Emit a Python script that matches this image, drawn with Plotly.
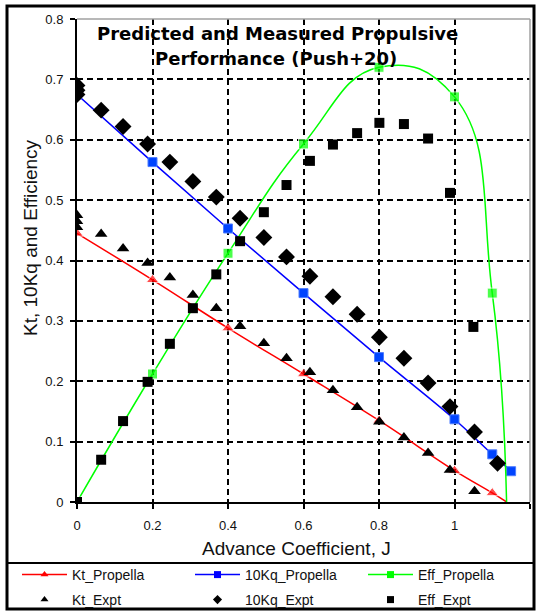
import plotly.graph_objects as go

# Predicted (propeller code) data
J_kt_pred = [0, 0.2, 0.4, 0.6, 0.8, 1.0, 1.1, 1.138]
Kt_pred = [0.445, 0.368, 0.288, 0.212, 0.135, 0.052, 0.015, 0.0]

J_kq_pred = [0, 0.2, 0.4, 0.6, 0.8, 1.0, 1.1, 1.15]
Kq_pred = [0.675, 0.563, 0.453, 0.346, 0.24, 0.137, 0.079, 0.051]

J_eff_pred = [0, 0.2, 0.4, 0.6, 0.8, 1.0, 1.1, 1.138]
Eff_pred = [0.0, 0.212, 0.412, 0.593, 0.72, 0.671, 0.346, 0.0]

# Experimental data
J_kt_expt = [0, 0, 0, 0.064, 0.122, 0.187, 0.246, 0.307, 0.369, 0.432, 0.495,
             0.555, 0.617, 0.678, 0.742, 0.801, 0.866, 0.93, 0.988, 1.053]
Kt_expt = [0.475, 0.465, 0.455, 0.444, 0.42, 0.396, 0.372, 0.343, 0.321, 0.291, 0.263,
           0.238, 0.215, 0.185, 0.157, 0.133, 0.107, 0.081, 0.053, 0.018]

J_kq_expt = [0, 0, 0, 0.064, 0.122, 0.187, 0.246, 0.307, 0.369, 0.432, 0.495,
             0.555, 0.617, 0.678, 0.742, 0.801, 0.866, 0.93, 0.988, 1.053, 1.114]
Kq_expt = [0.69, 0.682, 0.675, 0.649, 0.622, 0.593, 0.563, 0.531, 0.505, 0.47, 0.438,
           0.406, 0.374, 0.34, 0.311, 0.273, 0.238, 0.197, 0.158, 0.116, 0.064]

J_eff_expt = [0, 0.064, 0.122, 0.187, 0.246, 0.307, 0.369, 0.432, 0.495,
              0.555, 0.617, 0.678, 0.742, 0.801, 0.866, 0.93, 0.988, 1.05]
Eff_expt = [0.0, 0.07, 0.134, 0.199, 0.262, 0.321, 0.377, 0.432, 0.48,
            0.525, 0.565, 0.592, 0.611, 0.628, 0.626, 0.602, 0.512, 0.29]

x_ticks = [0, 0.2, 0.4, 0.6, 0.8, 1.0, 1.2]
y_ticks = [0, 0.1, 0.2, 0.3, 0.4, 0.5, 0.6, 0.7, 0.8]

FONT = "Liberation Sans, Arial, sans-serif"

fig = go.Figure()

def sizes(n, s, hide_last=False):
    arr = [s] * n
    if hide_last:
        arr[-1] = 0
    return arr

# ---- data traces (legend handled by dedicated legend entries below) ----
fig.add_trace(go.Scatter(
    x=J_kt_pred, y=Kt_pred, name="Kt_Propella", mode="lines+markers", showlegend=False,
    line=dict(color="#ff0000", width=1.5, shape="spline"),
    marker=dict(symbol="triangle-up", color="#ff0000", size=sizes(len(J_kt_pred), 11, True))))
fig.add_trace(go.Scatter(
    x=J_kq_pred, y=Kq_pred, name="10Kq_Propella", mode="lines+markers", showlegend=False,
    line=dict(color="#0000ff", width=1.5, shape="spline"),
    marker=dict(symbol="square", color="#0044ff", size=9,
                line=dict(color="#4d7cff", width=1))))
fig.add_trace(go.Scatter(
    x=J_eff_pred, y=Eff_pred, name="Eff_Propella", mode="lines+markers", showlegend=False,
    line=dict(color="#00ff00", width=1.5, shape="spline", smoothing=1.3),
    marker=dict(symbol="square", color="#00ff00", size=sizes(len(J_eff_pred), 10, True))))
fig.add_trace(go.Scatter(
    x=J_kt_expt, y=Kt_expt, name="Kt_Expt", mode="markers", showlegend=False,
    marker=dict(symbol="triangle-up", color="#000000", size=11)))
fig.add_trace(go.Scatter(
    x=J_kq_expt, y=Kq_expt, name="10Kq_Expt", mode="markers", showlegend=False,
    marker=dict(symbol="diamond", color="#000000", size=13)))
fig.add_trace(go.Scatter(
    x=J_eff_expt, y=Eff_expt, name="Eff_Expt", mode="markers", showlegend=False,
    marker=dict(symbol="square", color="#000000", size=10)))

# ---- legend entries ----
leg_row1 = [("Kt_Propella", "#ff0000", "triangle-up"),
            ("10Kq_Propella", "#0000ff", "square"),
            ("Eff_Propella", "#00ff00", "square")]
leg_row2 = [("Kt_Expt", "triangle-up"), ("10Kq_Expt", "diamond"), ("Eff_Expt", "square")]
for name, col, sym in leg_row1:
    fig.add_trace(go.Scatter(x=[None], y=[None], name=name, mode="lines+markers",
                             legend="legend",
                             line=dict(color=col, width=1.5),
                             marker=dict(symbol=sym, color=col, size=7)))
for name, sym in leg_row2:
    fig.add_trace(go.Scatter(x=[None], y=[None], name=name, mode="markers",
                             legend="legend2",
                             marker=dict(symbol=sym, color="#000000", size=7)))

axis_common = dict(
    showline=True, linecolor="#000000", linewidth=2,
    ticks="outside", ticklen=5, tickwidth=1.5, tickcolor="#000000",
    showgrid=True, gridcolor="#000000", gridwidth=1.5, griddash="6px,4px",
    zeroline=False, tickfont=dict(family=FONT, size=13, color="#111111"),
)

fig.update_xaxes(range=[0, 1.2], tickvals=x_ticks, ticklabelstandoff=5, **axis_common)
fig.update_yaxes(range=[0, 0.8], tickvals=y_ticks, ticklabelstandoff=4, **axis_common)

W, H = 537, 614
L, R, T, B = 77, 530, 19, 502
pw, ph = R - L, B - T

def px(xp):
    return (xp - L) / pw

def py(yp):
    return (B - yp) / ph

shapes = [
    dict(type="line", xref="paper", yref="paper", x0=0, x1=1, y0=1, y1=1,
         line=dict(color="#a0a0a0", width=1.5), layer="above"),
    dict(type="line", xref="paper", yref="paper", x0=1, x1=1, y0=0, y1=1,
         line=dict(color="#a0a0a0", width=1.5), layer="above"),
    dict(type="rect", xref="paper", yref="paper", x0=px(7), x1=px(534), y0=py(6), y1=py(609),
         line=dict(color="#000000", width=3), layer="above"),
    dict(type="line", xref="paper", yref="paper", x0=px(7), x1=px(534), y0=py(563), y1=py(563),
         line=dict(color="#000000", width=2), layer="above"),
]

annotations = [
    dict(text="<b>Predicted and Measured Propulsive</b>", xref="paper", yref="paper",
         x=px(277), y=py(33), xanchor="center", yanchor="middle", showarrow=False,
         font=dict(family="DejaVu Sans", size=18, color="#000000")),
    dict(text="<b>Performance (Push+20)</b>", xref="paper", yref="paper",
         x=px(276), y=py(58), xanchor="center", yanchor="middle", showarrow=False,
         font=dict(family="DejaVu Sans", size=18, color="#000000")),
    dict(text="Advance Coefficient, J", xref="paper", yref="paper",
         x=px(296), y=py(548), xanchor="center", yanchor="middle", showarrow=False,
         font=dict(family=FONT, size=19, color="#111111")),
    dict(text="Kt, 10Kq and Efficiency", xref="paper", yref="paper",
         x=px(31), y=py(238), xanchor="center", yanchor="middle", showarrow=False,
         textangle=-90, font=dict(family=FONT, size=19, color="#111111")),
]

legend_common = dict(orientation="h", xanchor="left", yanchor="middle",
                     entrywidth=113, entrywidthmode="pixels", itemwidth=45,
                     bgcolor="rgba(0,0,0,0)", borderwidth=0,
                     font=dict(family=FONT, size=14, color="#111111"))

fig.update_layout(
    width=W, height=H,
    margin=dict(l=L, r=W - R, t=T, b=H - B, pad=0, autoexpand=False),
    paper_bgcolor="#ffffff", plot_bgcolor="#ffffff",
    showlegend=True,
    legend=dict(x=px(17), y=py(575), **legend_common),
    legend2=dict(x=px(17), y=py(600), **legend_common),
    shapes=shapes, annotations=annotations,
    hovermode=False,
)

fig.write_html("out.html")
